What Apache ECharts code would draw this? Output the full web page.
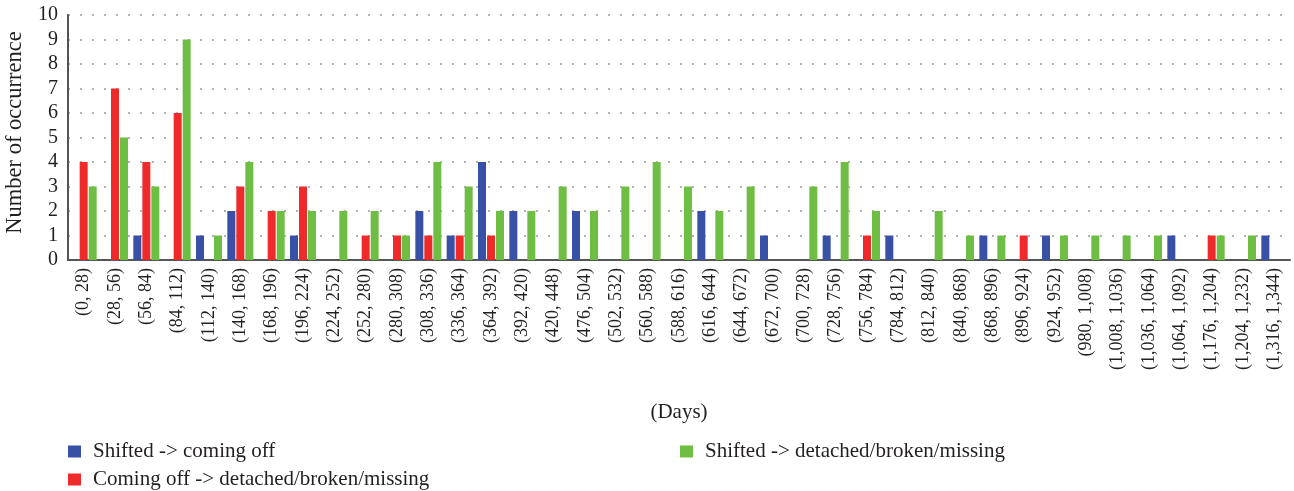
<!DOCTYPE html>
<html>
<head>
<meta charset="utf-8">
<script src="https://cdn.jsdelivr.net/npm/echarts@6/dist/echarts.min.js"></script>
<style>
  html, body { margin: 0; padding: 0; background: #fff; }
  #main { width: 1294px; height: 491px; }
</style>
</head>
<body>
<div id="main"></div>
<script>
// day intervals
var categories = [
  "(0, 28)", "(28, 56)", "(56, 84)", "(84, 112)", "(112, 140)", "(140, 168)",
  "(168, 196)", "(196, 224)", "(224, 252)", "(252, 280)", "(280, 308)", "(308, 336)",
  "(336, 364)", "(364, 392)", "(392, 420)", "(420, 448)", "(476, 504)", "(502, 532)",
  "(560, 588)", "(588, 616)", "(616, 644)", "(644, 672)", "(672, 700)", "(700, 728)",
  "(728, 756)", "(756, 784)", "(784, 812)", "(812, 840)", "(840, 868)", "(868, 896)",
  "(896, 924)", "(924, 952)", "(980, 1,008)", "(1,008, 1,036)", "(1,036, 1,064)",
  "(1,064, 1,092)", "(1,176, 1,204)", "(1,204, 1,232)", "(1,316, 1,344)"
];

var shiftedComingOff = [
  0, 0, 1, 0, 1, 2, 0, 1, 0, 0, 0, 2, 1, 4, 2, 0, 2, 0, 0, 0,
  2, 0, 1, 0, 1, 0, 1, 0, 0, 1, 0, 1, 0, 0, 0, 1, 0, 0, 1
];
var comingOffDetached = [
  4, 7, 4, 6, 0, 3, 2, 3, 0, 1, 1, 1, 1, 1, 0, 0, 0, 0, 0, 0,
  0, 0, 0, 0, 0, 1, 0, 0, 0, 0, 1, 0, 0, 0, 0, 0, 1, 0, 0
];
var shiftedDetached = [
  3, 5, 3, 9, 1, 4, 2, 2, 2, 2, 1, 4, 3, 2, 2, 3, 2, 3, 4, 3,
  2, 3, 0, 3, 4, 2, 0, 2, 1, 1, 0, 1, 1, 1, 1, 0, 1, 1, 0
];

var yTicks = { min: 0, max: 10, interval: 1 };

var seriesNames = [
  "Shifted -> coming off",
  "Coming off -> detached/broken/missing",
  "Shifted -> detached/broken/missing"
];
var colors = ["#3850a5", "#ee2a2b", "#6fbe44"];

var font = "'Liberation Serif', 'DejaVu Serif', serif";
var textColor = "#231f20";

var chart = echarts.init(document.getElementById("main"));

function zeroless(arr) {
  // hide zero-height bars
  return arr.map(function (v) { return v === 0 ? null : v; });
}

var legendText = { fontFamily: font, fontSize: 21, color: textColor, padding: [0, 0, 0, 7] };

chart.setOption({
  animation: false,
  textStyle: { fontFamily: font, color: textColor },
  color: colors,
  legend: [
    {
      orient: "vertical",
      left: 68,
      top: 441,
      padding: 0,
      itemWidth: 13,
      itemHeight: 12,
      itemGap: 7,
      icon: "rect",
      data: [seriesNames[0], seriesNames[1]],
      textStyle: legendText
    },
    {
      orient: "vertical",
      left: 680,
      top: 441,
      padding: 0,
      itemWidth: 13,
      itemHeight: 12,
      icon: "rect",
      data: [seriesNames[2]],
      textStyle: legendText
    }
  ],
  grid: { left: 68, right: 4, top: 15, bottom: 231, containLabel: false, outerBoundsMode: "none" },
  xAxis: {
    type: "category",
    data: categories,
    name: "(Days)",
    nameLocation: "middle",
    nameGap: 142,
    nameTextStyle: { fontFamily: font, fontSize: 21, color: textColor },
    axisLine: { lineStyle: { color: "#555", width: 2 } },
    axisTick: { show: false },
    axisLabel: {
      rotate: 90,
      interval: 0,
      margin: 8,
      fontFamily: font,
      fontSize: 18,
      color: textColor
    }
  },
  yAxis: {
    type: "value",
    min: yTicks.min,
    max: yTicks.max,
    interval: yTicks.interval,
    name: "Number of occurrence",
    nameLocation: "middle",
    nameGap: 41,
    nameTextStyle: { fontFamily: font, fontSize: 22.5, color: textColor, padding: [0, 0, 0, 10] },
    axisLine: { show: true, lineStyle: { color: "#555", width: 2 } },
    axisTick: { show: false },
    axisLabel: { fontFamily: font, fontSize: 20, color: textColor, margin: 10 },
    splitLine: {
      show: true,
      lineStyle: { color: "#999", type: [2, 10], width: 1.5 }
    }
  },
  series: [
    { name: seriesNames[0], type: "bar", barWidth: 8, barGap: "12.5%", data: zeroless(shiftedComingOff) },
    { name: seriesNames[1], type: "bar", barWidth: 8, barGap: "12.5%", data: zeroless(comingOffDetached) },
    { name: seriesNames[2], type: "bar", barWidth: 8, barGap: "12.5%", data: zeroless(shiftedDetached) }
  ]
});
</script>
</body>
</html>
